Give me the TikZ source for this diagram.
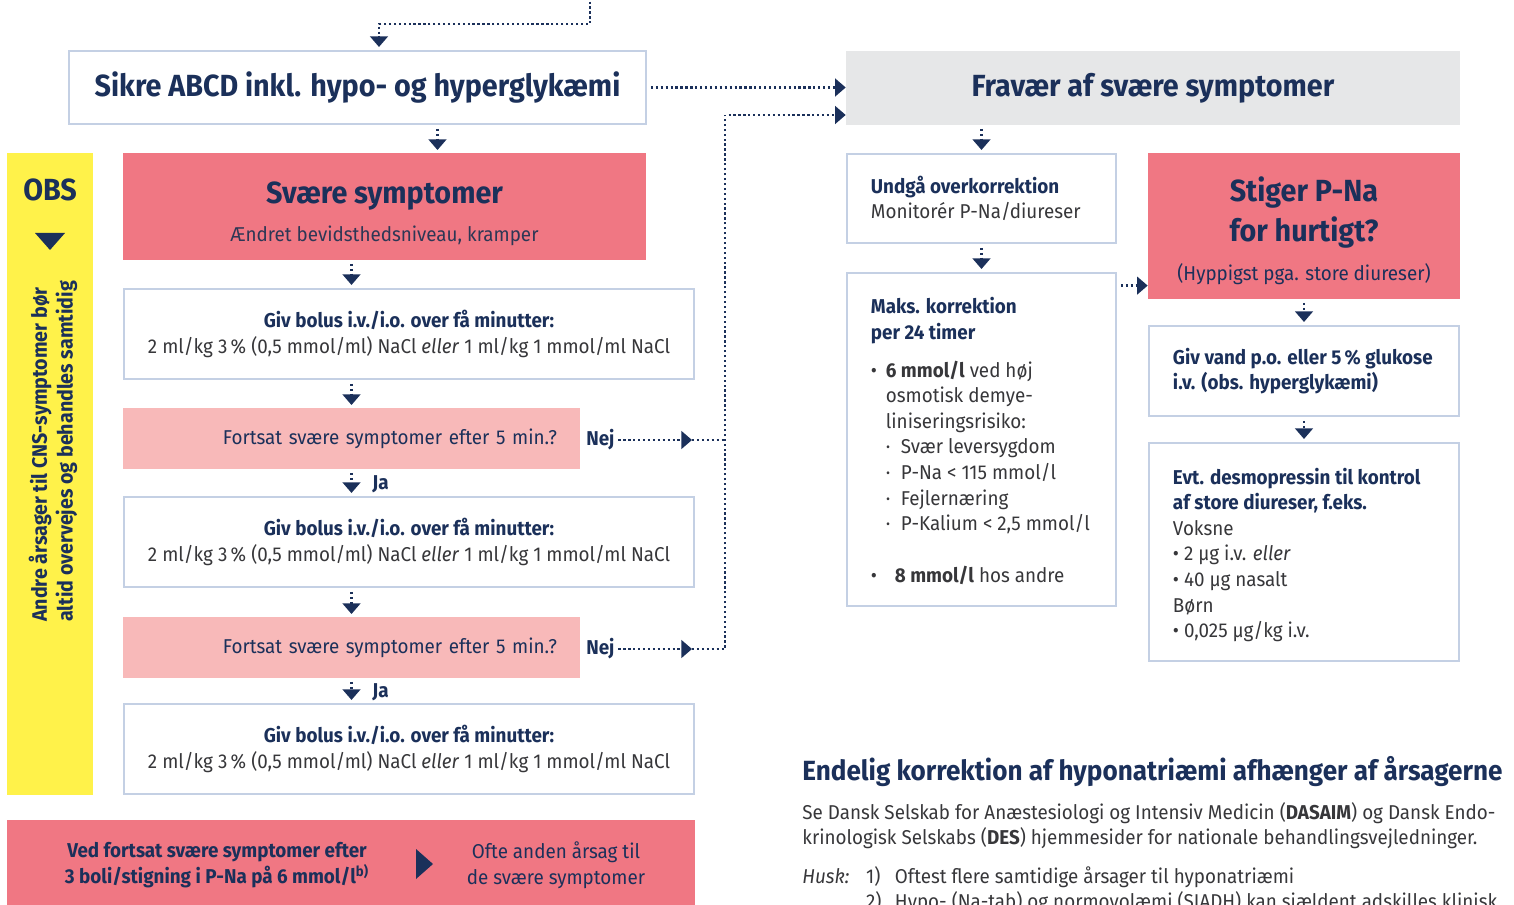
\documentclass[tikz,border=0pt]{standalone}
\usepackage{fontspec}
\setmainfont{Fira Sans}[FakeStretch=0.94]
\usetikzlibrary{arrows.meta,positioning,calc}

\definecolor{navy}{RGB}{27,48,90}
\definecolor{boxline}{RGB}{196,208,228}
\definecolor{rosa}{RGB}{240,119,131}
\definecolor{lightrosa}{RGB}{248,185,185}
\definecolor{obsyellow}{RGB}{255,242,74}
\definecolor{lightgrey}{RGB}{230,231,232}
\definecolor{bodytext}{RGB}{55,55,58}
\definecolor{subtext}{RGB}{45,55,85}

\newcommand{\bigtitle}{\fontsize{17.4}{20}\selectfont\bfseries}
\newcommand{\bodysize}{\fontsize{11.4}{14.6}\selectfont}
\newcommand{\boxhead}[1]{\textcolor{navy}{\bfseries #1}}
\newcommand{\bolustext}{\boxhead{Giv bolus i.v./i.o. over få minutter:}\\2 ml/kg 3\,\% (0,5 mmol/ml) NaCl \textit{eller} 1 ml/kg 1 mmol/ml NaCl}

\tikzset{
  box/.style={draw=boxline, line width=1.6pt, fill=white, inner sep=0pt},
  boxtext/.style={anchor=west, align=left, inner sep=0pt, text=bodytext, font=\bodysize},
  bolusbox/.style={box, minimum width=11.4cm, minimum height=1.8cm, align=center, text=bodytext, font=\bodysize},
  askbox/.style={fill=lightrosa, minimum width=9.14cm, minimum height=1.22cm, text width=8.22cm, inner xsep=0.46cm, align=right, text=navy, font=\bodysize},
  answer/.style={anchor=west, inner sep=0pt, text=navy, font=\bfseries\bodysize},
  flow/.style={navy, line width=1.3pt, dash pattern=on 1.3pt off 1.5pt, shorten <=2pt, shorten >=1.5pt, -{Triangle[width=10pt,length=6pt]}},
  dotline/.style={navy, line width=1.3pt, dash pattern=on 1.3pt off 1.5pt}
}

\begin{document}
\begin{tikzpicture}[x=0.02cm, y=-0.02cm]
  \useasboundingbox (0,0) rectangle (1514,905);

  % left column
  \node[box, minimum width=11.54cm, minimum height=1.46cm, text=navy, font=\bigtitle] (sikre) at (357.5,87.5) {Sikre ABCD inkl. hypo- og hyperglykæmi};
  \node[fill=obsyellow, minimum width=1.72cm, minimum height=12.84cm] (obs) at (50,474) {};
  \node[text=navy, font=\bigtitle] (obshead) at (50,190) {OBS};
  \fill[navy] (35,233) -- (65,233) -- (50,250) -- cycle;
  \node[rotate=90, anchor=west, align=left, text=navy, font=\bfseries\fontsize{11.9}{14.6}\selectfont] (obsnote) at (53,628) {Andre årsager til CNS-symptomer bør\\altid overvejes og behandles samtidig};

  \node[fill=rosa, minimum width=10.46cm, minimum height=2.14cm, align=center, text=navy, font=\bodysize] (svaere) at (384.5,206.5) {{\bigtitle\rule{0pt}{21pt}Svære symptomer}\\[7pt]\textcolor{subtext}{Ændret bevidsthedsniveau, kramper}};
  \node[bolusbox] (bolus1) at (409,334) {\bolustext};
  \node[askbox] (fort1) at (351.5,438.5) {Fortsat svære symptomer efter 5 min.?};
  \node[answer] (nej1) at (586,440) {Nej};
  \node[answer] (ja1) at (372,484) {Ja};
  \node[bolusbox] (bolus2) at (409,542) {\bolustext};
  \node[askbox] (fort2) at (351.5,647.5) {Fortsat svære symptomer efter 5 min.?};
  \node[answer] (nej2) at (586,649) {Nej};
  \node[answer] (ja2) at (372,692) {Ja};
  \node[bolusbox] (bolus3) at (409,749) {\bolustext};

  % bottom box
  \node[fill=rosa, minimum width=13.76cm, minimum height=1.8cm] (bottom) at (351,865) {};
  \node[align=center, text=navy, font=\bfseries\bodysize] (vedfortsat) at (217,865) {Ved fortsat svære symptomer efter\\3 boli/stigning i P-Na på 6 mmol/l\textsuperscript{b)}};
  \fill[navy] (416,849) -- (433,864) -- (416,879) -- cycle;
  \node[align=center, text=navy, font=\bodysize] (ofte) at (556,865) {Ofte anden årsag til\\de svære symptomer};

  % right column
  \node[fill=lightgrey, minimum width=12.28cm, minimum height=1.48cm, text=navy, font=\bigtitle] (fravaer) at (1153,88) {Fravær af svære symptomer};
  \node[box, minimum width=5.38cm, minimum height=1.78cm] (undga) at (981.5,198.5) {};
  \node[boxtext] (undgatext) at ([xshift=0.5cm]undga.west) {\boxhead{Undgå overkorrektion}\\Monitorér P-Na/diureser};
  \node[box, minimum width=5.38cm, minimum height=6.66cm] (maks) at (981.5,439.5) {};
  \node[boxtext] (makstext) at ([xshift=0.5cm,yshift=-0.03cm]maks.west) {\boxhead{Maks. korrektion}\\\boxhead{per 24 timer}\\[6.8pt]
    \makebox[8.5pt][l]{•}\textbf{6 mmol/l} ved høj\\
    \hspace*{8.5pt}osmotisk demye-\\
    \hspace*{8.5pt}liniseringsrisiko:\\
    \hspace*{8.5pt}\makebox[8.5pt][l]{·}Svær leversygdom\\
    \hspace*{8.5pt}\makebox[8.5pt][l]{·}P-Na < 115 mmol/l\\
    \hspace*{8.5pt}\makebox[8.5pt][l]{·}Fejlernæring\\
    \hspace*{8.5pt}\makebox[8.5pt][l]{·}P-Kalium < 2,5 mmol/l\\[14.6pt]
    \makebox[13.6pt][l]{•}\textbf{8 mmol/l} hos andre};
  \node[fill=rosa, minimum width=6.24cm, minimum height=2.92cm, align=center, text=navy, font=\bodysize] (stiger) at (1304,226) {{\bigtitle\rule{0pt}{19.5pt}Stiger P-Na}\\[3.5pt]{\bigtitle for hurtigt?}\\[7.5pt](Hyppigst pga. store diureser)};
  \node[box, minimum width=6.2cm, minimum height=1.8cm] (vand) at (1304,371) {};
  \node[boxtext, text=navy, font=\bfseries\bodysize] (vandtext) at ([xshift=0.5cm]vand.west) {Giv vand p.o. eller 5\,\% glukose\\i.v. (obs. hyperglykæmi)};
  \node[box, minimum width=6.2cm, minimum height=4.36cm] (evt) at (1304,552) {};
  \node[boxtext] (evttext) at ([xshift=0.5cm,yshift=-0.06cm]evt.west) {\boxhead{Evt. desmopressin til kontrol}\\\boxhead{af store diureser, f.eks.}\\Voksne\\• 2 µg i.v. \textit{eller}\\• 40 µg nasalt\\Børn\\• 0,025 µg/kg i.v.};

  % footnote text
  \node[anchor=base west, inner sep=0pt, text=navy, font=\bfseries\fontsize{15.8}{18}\selectfont] (endelig) at (802,780) {Endelig korrektion af hyponatriæmi afhænger af årsagerne};
  \node[anchor=north west, inner sep=0pt, align=left, text=bodytext, font=\bodysize] (dasaim) at (802,802) {Se Dansk Selskab for Anæstesiologi og Intensiv Medicin (\textbf{DASAIM}) og Dansk Endo-\\krinologisk Selskabs (\textbf{DES}) hjemmesider for nationale behandlingsvejledninger.};
  \node[anchor=north west, inner sep=0pt, align=left, text=bodytext, font=\bodysize] (husk) at (802,866) {\makebox[36.3pt][l]{\textit{Husk:}}\makebox[16.4pt][l]{1)}Oftest flere samtidige årsager til hyponatriæmi\\
    \hspace*{36.3pt}\makebox[16.4pt][l]{2)}Hypo- (Na-tab) og normovolæmi (SIADH) kan sjældent adskilles klinisk};

  % connectors
  \coordinate (topin) at (590,-2);
  \coordinate (topbend) at (590,24);
  \draw[flow] (topin) -- (topbend) -| ([xshift=0.43cm]sikre.north);
  \draw[flow] ([xshift=1.6cm]sikre.south) -- ([xshift=1.6cm]sikre.south |- svaere.north);
  \draw[flow, shorten >=0pt] (sikre.east) -- (sikre.east -| fravaer.west);
  \draw[flow] (svaere.south -| fort1.south) -- (bolus1.north -| fort1.south);
  \draw[flow] (bolus1.south -| fort1.north) -- (fort1.north);
  \draw[flow] (fort1.south) -- (bolus2.north -| fort1.south);
  \draw[flow] (bolus2.south -| fort2.north) -- (fort2.north);
  \draw[flow] (fort2.south) -- (bolus3.north -| fort2.south);

  \coordinate (nejtip1) at (692,440);
  \coordinate (nejtip2) at (692,649);
  \coordinate (rail1) at (725,440);
  \coordinate (rail2) at (725,649);
  \coordinate (railtop) at (725,115);
  \draw[flow, shorten >=0pt] (nej1) -- (nejtip1);
  \draw[flow, shorten >=0pt] (nej2) -- (nejtip2);
  \draw[dotline] (nejtip1) -- (rail1);
  \draw[dotline] (nejtip2) -- (rail2) -- (railtop);
  \draw[flow, shorten >=0pt] (railtop) -- (railtop -| fravaer.west);

  \draw[flow] (fravaer.south -| undga.north) -- (undga.north);
  \draw[flow] (undga.south) -- (maks.north);
  \draw[flow, shorten >=0pt] ([yshift=-0.28cm]maks.north east) -- ([yshift=-0.28cm]maks.north east -| stiger.west);
  \draw[flow] (stiger.south -| vand.north) -- (vand.north);
  \draw[flow] (vand.south) -- (evt.north);
\end{tikzpicture}
\end{document}
